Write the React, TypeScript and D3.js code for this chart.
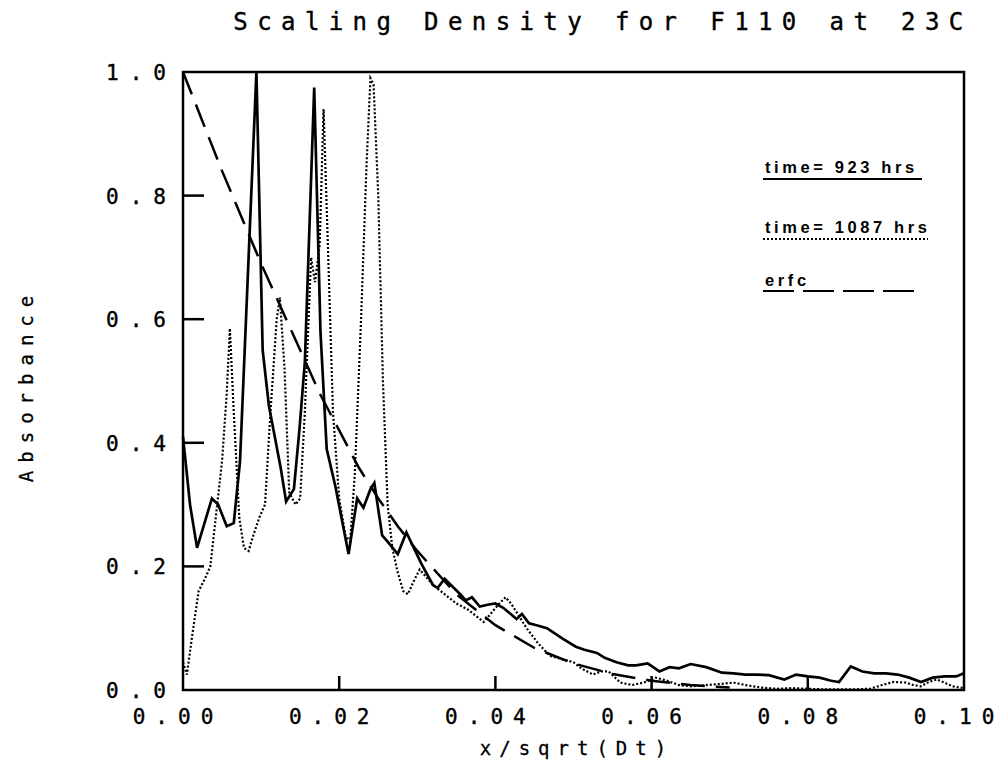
import React from 'react';
import * as d3 from 'd3';

const W = 1008;
const H = 768;

const title = 'Scaling Density for F110 at 23C';
const xLabel = 'x/sqrt(Dt)';
const yLabel = 'Absorbance';

const xTicks = [0, 0.02, 0.04, 0.06, 0.08, 0.1];
const xTickLabels = ['0.00', '0.02', '0.04', '0.06', '0.08', '0.10'];
const yTicks = [0, 0.2, 0.4, 0.6, 0.8, 1.0];
const yTickLabels = ['0.0', '0.2', '0.4', '0.6', '0.8', '1.0'];

const legendLabels = ['time= 923 hrs', 'time= 1087 hrs', 'erfc'];

// time = 923 hrs (solid)
const t923X = [0, 0.0009, 0.0018, 0.0037, 0.0045, 0.0056, 0.0065, 0.0073, 0.0094, 0.0102, 0.011, 0.0116, 0.0125, 0.0132, 0.0142, 0.0149, 0.0156, 0.0168, 0.0176, 0.0184, 0.0195, 0.0212, 0.0223, 0.0231, 0.024, 0.0245, 0.0255, 0.0262, 0.0275, 0.0286, 0.0305, 0.032, 0.0326, 0.0335, 0.0355, 0.0362, 0.037, 0.038, 0.039, 0.04, 0.041, 0.0427, 0.0434, 0.0443, 0.0455, 0.0466, 0.0486, 0.0503, 0.0514, 0.053, 0.054, 0.0555, 0.057, 0.058, 0.0595, 0.061, 0.0623, 0.0635, 0.065, 0.067, 0.069, 0.0705, 0.072, 0.0735, 0.075, 0.077, 0.0785, 0.08, 0.0815, 0.083, 0.084, 0.0855, 0.087, 0.0885, 0.09, 0.0915, 0.093, 0.0945, 0.096, 0.0975, 0.099, 0.1];
const t923Y = [0.41, 0.3, 0.23, 0.31, 0.3, 0.265, 0.27, 0.37, 1.0, 0.55, 0.46, 0.42, 0.36, 0.305, 0.325, 0.42, 0.53, 0.975, 0.58, 0.39, 0.33, 0.22, 0.31, 0.295, 0.325, 0.335, 0.25, 0.24, 0.22, 0.255, 0.205, 0.17, 0.165, 0.18, 0.155, 0.145, 0.15, 0.135, 0.138, 0.14, 0.133, 0.115, 0.123, 0.108, 0.104, 0.1, 0.083, 0.07, 0.065, 0.06, 0.052, 0.045, 0.04, 0.04, 0.043, 0.03, 0.037, 0.035, 0.042, 0.037, 0.028, 0.027, 0.025, 0.025, 0.024, 0.017, 0.025, 0.022, 0.02, 0.015, 0.013, 0.038, 0.03, 0.027, 0.027, 0.025, 0.02, 0.013, 0.02, 0.022, 0.022, 0.027];

// time = 1087 hrs (dotted)
const t1087X = [0, 0.0005, 0.0012, 0.002, 0.0028, 0.0035, 0.0042, 0.005, 0.0056, 0.006, 0.0065, 0.0072, 0.0078, 0.0084, 0.009, 0.0098, 0.0105, 0.0112, 0.012, 0.0124, 0.013, 0.0136, 0.0144, 0.015, 0.0156, 0.0164, 0.0169, 0.0175, 0.018, 0.0186, 0.0192, 0.02, 0.0208, 0.0214, 0.022, 0.0228, 0.0235, 0.024, 0.0244, 0.025, 0.0256, 0.0262, 0.0268, 0.0275, 0.0282, 0.0288, 0.0295, 0.0303, 0.031, 0.032, 0.033, 0.034, 0.035, 0.0365, 0.0375, 0.0385, 0.0395, 0.0405, 0.0413, 0.042, 0.043, 0.044, 0.0455, 0.047, 0.0485, 0.05, 0.051, 0.0525, 0.0535, 0.0545, 0.056, 0.0575, 0.059, 0.0605, 0.062, 0.0635, 0.065, 0.067, 0.069, 0.0705, 0.072, 0.074, 0.076, 0.078, 0.08, 0.082, 0.084, 0.086, 0.088, 0.0895, 0.091, 0.0925, 0.0935, 0.0945, 0.0955, 0.0965, 0.0975, 0.0985, 0.1];
const t1087Y = [0.045, 0.025, 0.09, 0.16, 0.18, 0.2, 0.28, 0.37, 0.48, 0.585, 0.45, 0.28, 0.23, 0.225, 0.25, 0.28, 0.3, 0.45, 0.6, 0.635, 0.52, 0.32, 0.3, 0.31, 0.45, 0.7, 0.66, 0.72, 0.94, 0.7, 0.45, 0.31, 0.25, 0.24, 0.35, 0.6, 0.85, 0.99, 0.98, 0.8, 0.5, 0.3, 0.23, 0.19, 0.16, 0.155, 0.175, 0.195, 0.185, 0.17, 0.16, 0.15, 0.14, 0.13, 0.12, 0.11, 0.125, 0.14, 0.15, 0.14, 0.12, 0.1, 0.075, 0.055, 0.05, 0.045, 0.035, 0.025, 0.03, 0.03, 0.012, 0.008, 0.012, 0.02, 0.015, 0.008, 0.006, 0.008, 0.01, 0.012, 0.008, 0.004, 0.002, 0.003, 0.002, 0.001, 0.001, 0.001, 0.002, 0.008, 0.013, 0.012, 0.008, 0.006, 0.013, 0.017, 0.012, 0.006, 0.003];

// erfc (dashed)
const erfcX = [0, 0.0025, 0.005, 0.0075, 0.01, 0.0125, 0.015, 0.0175, 0.02, 0.0225, 0.025, 0.0275, 0.03, 0.0325, 0.035, 0.0375, 0.04, 0.045, 0.05, 0.055, 0.06, 0.065, 0.07];
const erfcY = [1.0, 0.92, 0.84, 0.765, 0.69, 0.62, 0.55, 0.48, 0.42, 0.36, 0.31, 0.265, 0.225, 0.19, 0.155, 0.13, 0.105, 0.068, 0.043, 0.026, 0.015, 0.008, 0.004];

const MONO = '"DejaVu Sans Mono", monospace';

export default function App() {
  const left = 183, right = 964, top = 72, bottom = 690;
  const x = d3.scaleLinear().domain([0, 0.1]).range([left, right]);
  const y = d3.scaleLinear().domain([0, 1]).range([bottom, top]);
  const line = d3.line<[number, number]>().x(d => x(d[0])).y(d => y(d[1]));

  const s923 = line(t923X.map((v, i) => [v, t923Y[i]] as [number, number])) || '';
  const s1087 = line(t1087X.map((v, i) => [v, t1087Y[i]] as [number, number])) || '';
  const sErfc = line(erfcX.map((v, i) => [v, erfcY[i]] as [number, number])) || '';

  const tickLs = 10;
  const lgX = 765;
  const lgFont = '"Liberation Sans", Arial, sans-serif';

  return (
    <svg width={W} height={H} style={{ position: 'absolute', left: 0, top: 0, background: '#fff' }}>
      <rect x={0} y={0} width={W} height={H} fill="#fff" />
      <text x={598 + 5} y={30} textAnchor="middle" fontFamily={MONO} fontSize={24} letterSpacing={9.4} fill="#000" stroke="#000" strokeWidth={0.4}>{title}</text>

      <g fill="none" stroke="#000" strokeLinejoin="miter">
        <path d={s923} strokeWidth={2.7} />
        <path d={s1087} strokeWidth={2.2} strokeDasharray="2 2" />
        <path d={sErfc} strokeWidth={2.5} strokeDasharray="24 11" />
      </g>

      <rect x={left} y={top} width={right - left} height={bottom - top} fill="none" stroke="#000" strokeWidth={2.5} />
      {yTicks.slice(1, -1).map(v => (
        <line key={'yt' + v} x1={left} x2={left + 21} y1={y(v)} y2={y(v)} stroke="#000" strokeWidth={2.5} />
      ))}
      {xTicks.slice(1, -1).map(v => (
        <line key={'xt' + v} x1={x(v)} x2={x(v)} y1={bottom} y2={bottom - 14} stroke="#000" strokeWidth={2.5} />
      ))}

      <g fontFamily={MONO} fontSize={21} letterSpacing={11} fill="#000" stroke="#000" strokeWidth={0.4}>
        {yTicks.map((v, i) => (
          <text key={'yl' + v} x={166 + 11} y={y(v) + 8} textAnchor="end">{yTickLabels[i]}</text>
        ))}
      </g>
      <g fontFamily={MONO} fontSize={21} letterSpacing={tickLs} fill="#000" stroke="#000" strokeWidth={0.4}>
        {xTicks.map((v, i) => (
          <text key={'xl' + v} x={x(v) - 5} y={724} textAnchor="middle">{xTickLabels[i]}</text>
        ))}
      </g>

      <g fontFamily={MONO} fontSize={19} letterSpacing={8} fill="#000" stroke="#000" strokeWidth={0.3}>
        <text x={573 + 4} y={755} textAnchor="middle">{xLabel}</text>
        <text transform={`translate(33, ${385}) rotate(-90)`} textAnchor="middle">{yLabel}</text>
      </g>

      <g fontFamily={lgFont} fontWeight="bold" fontSize={16.5} letterSpacing={3.6} fill="#000">
        <text x={lgX} y={173}>{legendLabels[0]}</text>
        <text x={lgX} y={233}>{legendLabels[1]}</text>
        <text x={lgX} y={286}>{legendLabels[2]}</text>
      </g>
      <line x1={763} x2={922} y1={179} y2={179} stroke="#000" strokeWidth={2.2} />
      <line x1={763} x2={928} y1={239} y2={239} stroke="#000" strokeWidth={2} strokeDasharray="2 2" />
      <line x1={763} x2={915} y1={291} y2={291} stroke="#000" strokeWidth={2.2} strokeDasharray="31 9" />
    </svg>
  );
}
